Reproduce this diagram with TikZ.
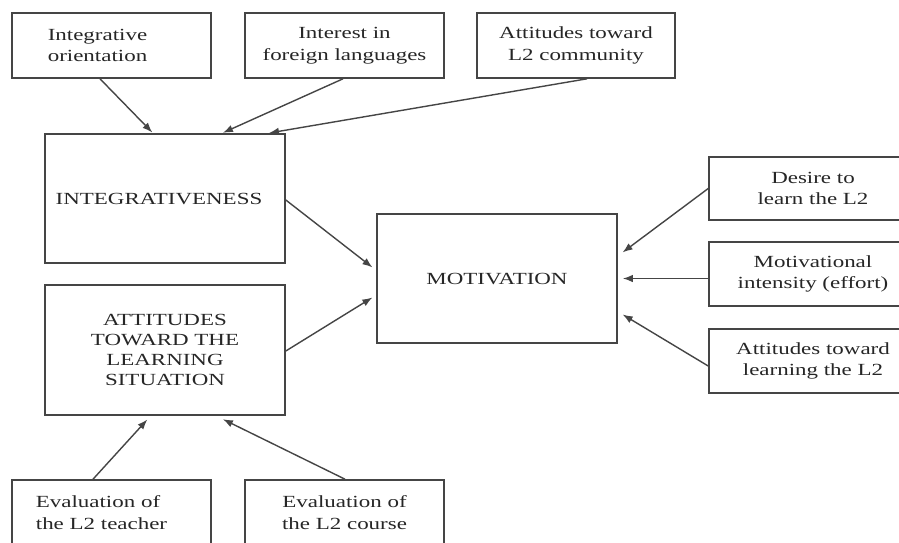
\documentclass[tikz,border=0pt]{standalone}
\usepackage{fontspec}
\setmainfont{Liberation Serif}[FakeStretch=1.35]
\usetikzlibrary{arrows.meta}
\definecolor{ink}{HTML}{262626}
\definecolor{edgec}{HTML}{454545}
\begin{document}
\begin{tikzpicture}[x=1pt,y=-1pt,
 box/.style={draw=edgec,line width=1.6pt,rectangle,inner sep=0pt,align=center,text=ink,
   font=\fontsize{17}{21.5}\selectfont},
 smallbox/.style={box,minimum width=199pt,minimum height=65pt},
 bigbox/.style={box,minimum width=240pt,minimum height=129pt},
 rightbox/.style={box,minimum width=208pt,minimum height=64pt},
 link/.style={draw=edgec,line width=1.4pt,-{Latex[length=10pt,width=7.5pt]},shorten >=1pt}]
\useasboundingbox (0,0) rectangle (899,543);
\clip (0,0) rectangle (899,543);
\fill[white] (0,0) rectangle (899,543);
% top row
\node[smallbox,align=left] (intor) at (111.5,45.5) {Integrative\\orientation\hspace*{28pt}};
\node[smallbox] (inter) at (344.5,45.5) {Interest in\\foreign languages};
\node[smallbox,minimum width=198pt] (attc) at (576,45.5) {Attitudes toward\\L2 community};
% big boxes
\node[bigbox] (integ) at (165,198.5) {INTEGRATIVENESS\hspace*{12pt}};
\node[bigbox,minimum height=130pt,font=\fontsize{17}{20}\selectfont] (atls) at (165,350) {ATTITUDES\\TOWARD THE\\LEARNING\\SITUATION};
\node[bigbox] (motiv) at (497,278.5) {MOTIVATION};
% right boxes
\node[rightbox,minimum height=63pt] (desire) at (813,188.5) {Desire to\\learn the L2};
\node[rightbox] (mint) at (813,274) {Motivational\\intensity (effort)};
\node[rightbox] (atlearn) at (813,361) {Attitudes toward\\learning the L2};
% bottom boxes
\node[smallbox,align=left] (evt) at (111.5,512.5) {Evaluation of\\the L2 teacher\hspace*{20pt}};
\node[smallbox] (evc) at (344.5,512.5) {Evaluation of\\the L2 course};
% connectors
\draw[link] ([xshift=-11.5pt]intor.south) -- ([xshift=-12pt]integ.north);
\draw[link] ([xshift=-1.5pt]inter.south) -- ([xshift=57pt]integ.north);
\draw[link] ([xshift=11pt]attc.south) -- ([xshift=103pt]integ.north);
\draw[link] ([yshift=-1.5pt]integ.east) -- ([yshift=10.5pt,xshift=-3pt]motiv.west);
\draw[link] ([yshift=-1pt]atls.east) -- ([yshift=-18.5pt,xshift=-3pt]motiv.west);
\draw[link] (desire.west) -- ([yshift=25.5pt,xshift=4pt]motiv.east);
\draw[link] (mint.west |- motiv.east) -- ([xshift=4pt]motiv.east);
\draw[link] ([yshift=-5pt]atlearn.west) -- ([yshift=-35.5pt,xshift=4pt]motiv.east);
\draw[link] ([xshift=-18.5pt]evt.north) -- ([xshift=-17pt,yshift=-3pt]atls.south);
\draw[link] ([xshift=0.5pt]evc.north) -- ([xshift=57pt,yshift=-3pt]atls.south);
\end{tikzpicture}
\end{document}
